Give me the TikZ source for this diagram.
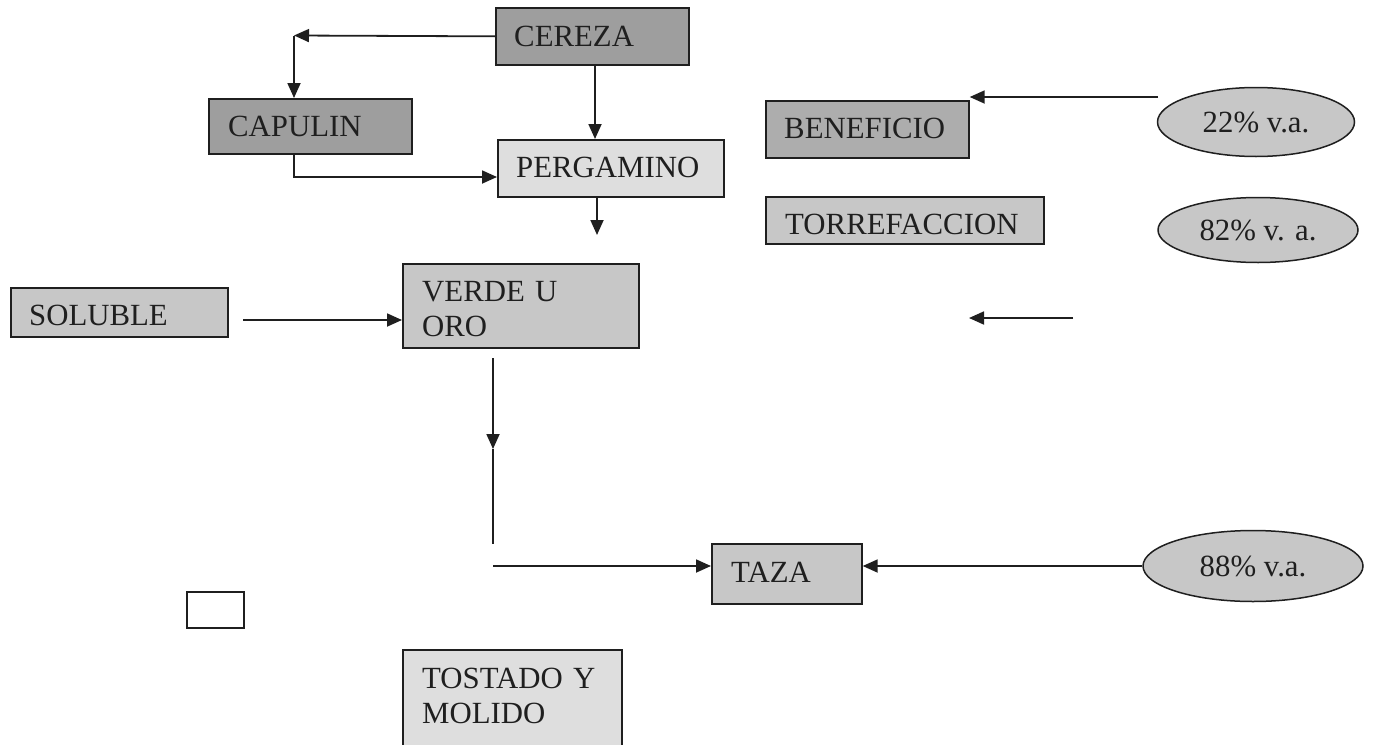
\documentclass[tikz,border=0pt]{standalone}
\usepackage{fontspec}
\setmainfont{Liberation Serif}
\usetikzlibrary{shapes.geometric,arrows.meta}
\definecolor{dgray}{gray}{0.62}
\definecolor{bgray}{gray}{0.68}
\definecolor{mgray}{gray}{0.78}
\definecolor{lgray}{gray}{0.87}
\definecolor{ink}{gray}{0.12}
\begin{document}
\begin{tikzpicture}[x=1pt,y=-1pt,
  box/.style={draw=ink, line width=1.7pt, rectangle, inner sep=0pt, anchor=north west},
  lbl/.style={anchor=base west, inner sep=0pt, text=ink, font=\fontsize{30.8}{35.5}\selectfont},
  mlbl/.style={anchor=base west, inner sep=0pt, text=ink, font=\fontsize{30.8}{35.5}\selectfont, text width=220pt, align=left},
  oval/.style={draw=ink, line width=1.5pt, ellipse, inner sep=0pt, fill=mgray, text=ink, font=\fontsize{30.8}{35.5}\selectfont},
  conn/.style={draw=ink, line width=1.8pt, -{Triangle[length=15pt,width=13pt]}},
  plainline/.style={draw=ink, line width=1.8pt}]
\useasboundingbox (0,0) rectangle (1375,744);
\clip (0,0) rectangle (1375,744);

% boxes
\node[box, fill=dgray, minimum width=193pt, minimum height=57pt] (cereza) at (495,7) {};
\node[box, fill=dgray, minimum width=203pt, minimum height=55pt] (capulin) at (208,98) {};
\node[box, fill=lgray, minimum width=226pt, minimum height=57pt] (pergamino) at (497,139) {};
\node[box, fill=bgray, minimum width=203pt, minimum height=57pt] (beneficio) at (765,100) {};
\node[box, fill=mgray, minimum width=278pt, minimum height=47pt] (torref) at (765,196) {};
\node[box, fill=mgray, minimum width=217pt, minimum height=49pt] (soluble) at (10,287) {};
\node[box, fill=mgray, minimum width=236pt, minimum height=84pt] (verde) at (402,263) {};
\node[box, fill=mgray, minimum width=150pt, minimum height=60pt] (taza) at (711,543) {};
\node[box, fill=lgray, minimum width=219pt, minimum height=130pt] (tostado) at (402,649) {};
\node[box, fill=white, minimum width=57pt, minimum height=36pt] (small) at (186,591) {};

% labels
\node[lbl] (cerezaT) at ([shift={(19pt,-39pt)}]cereza.north west) {CEREZA};
\node[lbl] (capulinT) at ([shift={(20pt,-38pt)}]capulin.north west) {CAPULIN};
\node[lbl] (pergaminoT) at ([shift={(19pt,-38pt)}]pergamino.north west) {PERGAMINO};
\node[lbl] (beneficioT) at ([shift={(19pt,-38pt)}]beneficio.north west) {BENEFICIO};
\node[lbl] (torrefT) at ([shift={(20pt,-38pt)}]torref.north west) {TORREFACCION};
\node[lbl] (solubleT) at ([shift={(19pt,-38pt)}]soluble.north west) {SOLUBLE};
\node[mlbl] (verdeT) at ([shift={(20pt,-38pt)}]verde.north west) {VERDE U\\ORO};
\node[lbl] (tazaT) at ([shift={(20pt,-39pt)}]taza.north west) {TAZA};
\node[mlbl] (tostadoT) at ([shift={(20pt,-39pt)}]tostado.north west) {TOSTADO Y\\MOLIDO};

% ellipses
\node[oval, minimum width=197pt, minimum height=69pt] (e22) at (1256,122) {22\% v.a.};
\node[oval, minimum width=200pt, minimum height=65pt] (e82) at (1258,230) {82\% v. a.};
\node[oval, minimum width=220pt, minimum height=71pt] (e88) at (1253,566) {88\% v.a.};

% connectors
\coordinate (k1) at (294,35.5);
\draw[conn] (cereza.west) -- (k1);
\draw[conn] (k1) -- (k1 |- capulin.north);
\coordinate (k2) at (294,177);
\draw[conn] (capulin.south -| k2) -- (k2) -- (pergamino.west |- k2);
\coordinate (k3) at (595,100);
\draw[conn] (cereza.south -| k3) -- (pergamino.north -| k3);
\coordinate (k4) at (597,235);
\draw[conn] (pergamino.south -| k4) -- (k4);
\coordinate (k5) at (1158,97);
\draw[conn] (k5) -- (k5 -| beneficio.east);
\coordinate (k6a) at (1073,318);
\coordinate (k6b) at (969,318);
\draw[conn] (k6a) -- (k6b);
\coordinate (k7) at (243,320);
\draw[conn] (k7) -- (k7 -| verde.west);
\coordinate (k8) at (493,358);
\coordinate (k9) at (493,449);
\coordinate (k10) at (493,544);
\draw[conn] (k8) -- (k9);
\draw[plainline] (k9) -- (k10);
\coordinate (k11) at (493,566);
\draw[conn] (k11) -- (k11 -| taza.west);
\draw[conn] (e88.west) -- (e88.west -| taza.east);
\end{tikzpicture}
\end{document}
